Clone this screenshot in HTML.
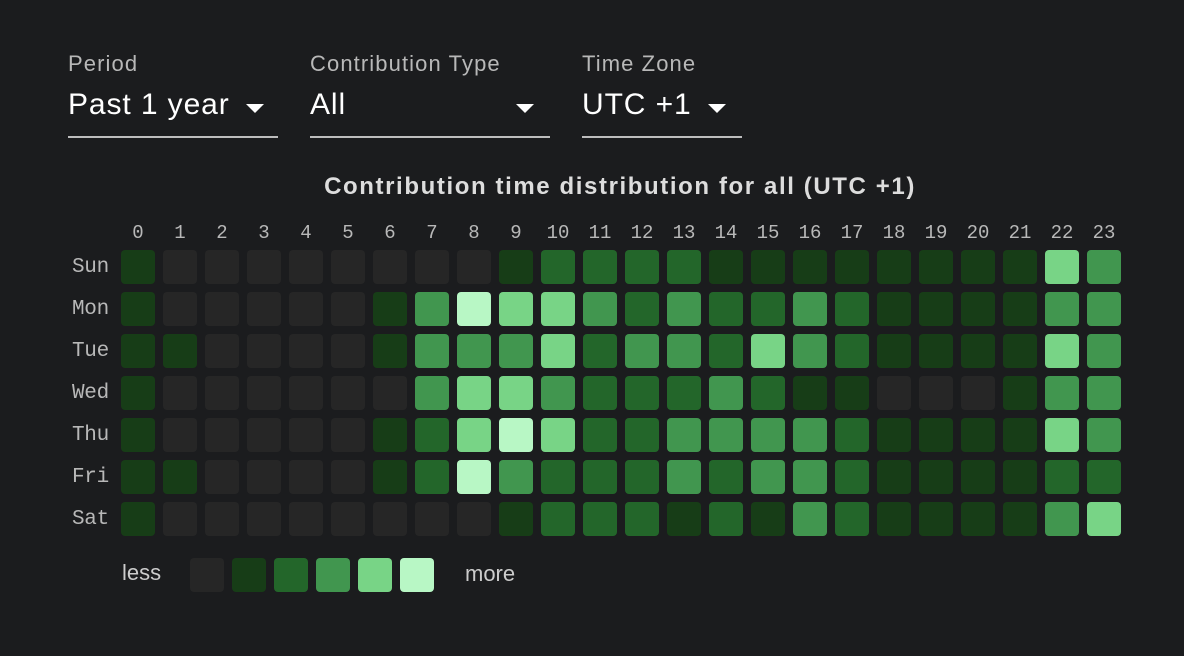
<!DOCTYPE html><html><head><style>
body{margin:0;width:1184px;height:656px;background:#1b1c1e;font-family:"Liberation Sans",sans-serif;position:relative;overflow:hidden}
.a{position:absolute;white-space:nowrap}
.lbl{color:#b8b8b8;font-size:22px;letter-spacing:1.1px}
.val{color:#fff;font-size:30px;letter-spacing:0.9px}
.ul{position:absolute;height:2px;background:#bdbdbd;top:136px}
.tri{position:absolute;width:0;height:0;border-left:9px solid transparent;border-right:9px solid transparent;border-top:9px solid #fff;top:104px}
.c{position:absolute;width:34px;height:34px;border-radius:4px}
.m{font-family:"Liberation Mono",monospace;color:#b8b8b8;font-size:19px}
</style></head><body>
<div class="a lbl" style="left:68px;top:51px">Period</div>
<div class="a val" style="left:68px;top:88px">Past 1 year</div>
<div class="tri" style="left:246px"></div>
<div class="ul" style="left:68px;width:210px"></div>
<div class="a lbl" style="left:310px;top:51px">Contribution Type</div>
<div class="a val" style="left:310px;top:88px">All</div>
<div class="tri" style="left:516px"></div>
<div class="ul" style="left:310px;width:240px"></div>
<div class="a lbl" style="left:582px;top:51px">Time Zone</div>
<div class="a val" style="left:582px;top:88px">UTC +1</div>
<div class="tri" style="left:708px"></div>
<div class="ul" style="left:582px;width:160px"></div>
<div class="a" style="left:0;width:1240px;text-align:center;top:173px;color:#ddd;font-weight:bold;font-size:24px;letter-spacing:1.6px">Contribution time distribution for all (UTC +1)</div>
<div id="g"></div>
<div class="a" style="left:122px;top:560px;color:#ccc;font-size:22px">less</div>
<div class="a" style="left:465px;top:561px;color:#ccc;font-size:22px">more</div>
<script>
var col=["#262626","#173d17","#23662a","#41964f","#78d486","#b8f7c5"];
var d=["100000000122221111111143","100000135443232232111133","110000133342332432111143","100000034432223211000133","100000124542233332111143","110000125322232332111122","100000000122212132111134"];
var days=["Sun","Mon","Tue","Wed","Thu","Fri","Sat"];
var h="";
for(var i=0;i<24;i++)h+='<div class="a m" style="left:'+(121+42*i)+'px;width:34px;text-align:center;top:222px">'+i+'</div>';
for(var r=0;r<7;r++){h+='<div class="a m" style="left:72px;top:'+(256+42*r)+'px;font-size:21px;letter-spacing:-0.3px">'+days[r]+'</div>';
for(var i=0;i<24;i++)h+='<div class="c" style="left:'+(121+42*i)+'px;top:'+(250+42*r)+'px;background:'+col[+d[r][i]]+'"></div>';}
for(var k=0;k<6;k++)h+='<div class="c" style="left:'+(190+42*k)+'px;top:558px;background:'+col[k]+'"></div>';
document.getElementById("g").innerHTML=h;
</script>
</body></html>
